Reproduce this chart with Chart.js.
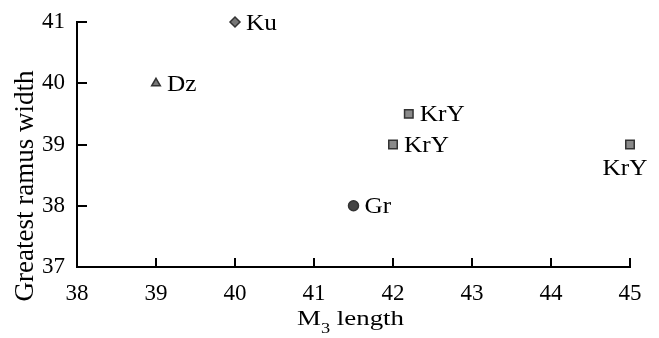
<!DOCTYPE html>
<html lang="en">
<head>
    <meta charset="UTF-8">
    <title>Greatest ramus width vs M3 length</title>
    <script src="https://cdn.jsdelivr.net/npm/chart.js"></script>
    <style>
        body {
            margin: 0;
            padding: 0;
            background: #fff;
        }
        .chart-container {
            width: 659px;
            height: 338px;
        }
    </style>
</head>
<body>
    <div class="chart-container">
        <canvas id="ramusChart"></canvas>
    </div>

    <script>
        // data
        const sampleNames = ['Ku', 'Dz', 'KrY', 'KrY', 'KrY', 'Gr'];
        const m3Length = [40, 39, 42.2, 42, 45, 41.5];
        const ramusWidth = [41, 40, 39.5, 39, 39, 38];
        const xTicks = [38, 39, 40, 41, 42, 43, 44, 45];
        const yTicks = [37, 38, 39, 40, 41];

        const serif = "'Liberation Serif', serif";

        const markerStyle = {
            Ku: { pointStyle: 'rectRot', radius: 5, fill: '#777' },
            Dz: { pointStyle: 'triangle', radius: 5, fill: '#777' },
            KrY: { pointStyle: 'rect', radius: 6, fill: '#8a8a8a' },
            Gr: { pointStyle: 'circle', radius: 5, fill: '#444' }
        };

        const points = m3Length.map((x, i) => ({ x: x, y: ramusWidth[i], name: sampleNames[i] }));

        // draws text squeezed/stretched horizontally by sx
        function wideText(c, text, x, y, sx) {
            c.save();
            c.translate(x, y);
            c.scale(sx, 1);
            c.fillText(text, 0, 0);
            c.restore();
        }

        // inward ticks + point labels + axis titles
        const decorPlugin = {
            id: 'decor',
            afterDraw(chart) {
                const c = chart.ctx;
                const xs = chart.scales.x, ys = chart.scales.y;
                const area = chart.chartArea;
                c.save();
                c.strokeStyle = '#000';
                c.lineWidth = 2;
                xTicks.forEach(v => {
                    const px = Math.round(xs.getPixelForValue(v));
                    c.beginPath();
                    c.moveTo(px, area.bottom);
                    c.lineTo(px, area.bottom - 9);
                    c.stroke();
                });
                yTicks.forEach(v => {
                    const py = Math.round(ys.getPixelForValue(v));
                    c.beginPath();
                    c.moveTo(area.left, py);
                    c.lineTo(area.left + 10, py);
                    c.stroke();
                });

                // labels next to points
                c.fillStyle = '#000';
                c.font = '23px ' + serif;
                c.textBaseline = 'alphabetic';
                c.textAlign = 'left';
                const sx = 1.1;
                const meta = chart.getDatasetMeta(0);
                meta.data.forEach((el, i) => {
                    const p = points[i];
                    const w = c.measureText(p.name).width * sx;
                    if (p.x === 45) {
                        wideText(c, p.name, el.x - 5 - w / 2, el.y + 30, sx);
                    } else {
                        wideText(c, p.name, el.x + 11, el.y + 7.5, sx);
                    }
                });

                // x title with subscript
                c.font = '22px ' + serif;
                const mW = c.measureText('M').width;
                const restW = c.measureText(' length').width;
                c.font = '15px ' + serif;
                const subW = c.measureText('3').width;
                const natural = mW + subW + restW;
                const tsx = 107 / natural;
                c.save();
                c.translate(297, 325);
                c.scale(tsx, 1);
                c.font = '22px ' + serif;
                c.fillText('M', 0, 0);
                c.font = '15px ' + serif;
                c.fillText('3', mW, 8);
                c.font = '22px ' + serif;
                c.fillText(' length', mW + subW, 0);
                c.restore();

                // y title
                c.translate(33, 186);
                c.rotate(-Math.PI / 2);
                c.font = '27px ' + serif;
                c.textAlign = 'center';
                c.fillText('Greatest ramus width', 0, 0);
                c.restore();
            }
        };

        const ctx = document.getElementById('ramusChart').getContext('2d');
        const ramusChart = new Chart(ctx, {
            type: 'scatter',
            data: {
                datasets: [{
                    data: points,
                    pointStyle: points.map(p => markerStyle[p.name].pointStyle),
                    pointRadius: points.map(p => markerStyle[p.name].radius),
                    backgroundColor: points.map(p => markerStyle[p.name].fill),
                    borderColor: '#333',
                    borderWidth: 1.5,
                    clip: false
                }]
            },
            options: {
                responsive: true,
                maintainAspectRatio: false,
                animation: false,
                layout: {
                    padding: { top: 22, right: 29, left: 0, bottom: 0 }
                },
                plugins: {
                    legend: { display: false },
                    tooltip: { enabled: false }
                },
                scales: {
                    x: {
                        type: 'linear',
                        min: 38,
                        max: 45,
                        afterBuildTicks(scale) {
                            scale.ticks = xTicks.map(v => ({ value: v }));
                        },
                        afterFit(scale) {
                            scale.height = 71;
                            scale.paddingLeft = 0;
                            scale.paddingRight = 0;
                        },
                        grid: { display: false, drawTicks: false },
                        border: { display: true, color: '#000', width: 2 },
                        ticks: {
                            color: '#000',
                            padding: 13,
                            font: { family: serif, size: 23 }
                        }
                    },
                    y: {
                        type: 'linear',
                        min: 37,
                        max: 41,
                        afterBuildTicks(scale) {
                            scale.ticks = yTicks.map(v => ({ value: v }));
                        },
                        afterFit(scale) {
                            scale.width = 77;
                            scale.paddingTop = 0;
                            scale.paddingBottom = 0;
                        },
                        grid: { display: false, drawTicks: false },
                        border: { display: true, color: '#000', width: 2 },
                        ticks: {
                            color: '#000',
                            padding: 12,
                            font: { family: serif, size: 23 }
                        }
                    }
                }
            },
            plugins: [decorPlugin]
        });
    </script>
</body>
</html>
